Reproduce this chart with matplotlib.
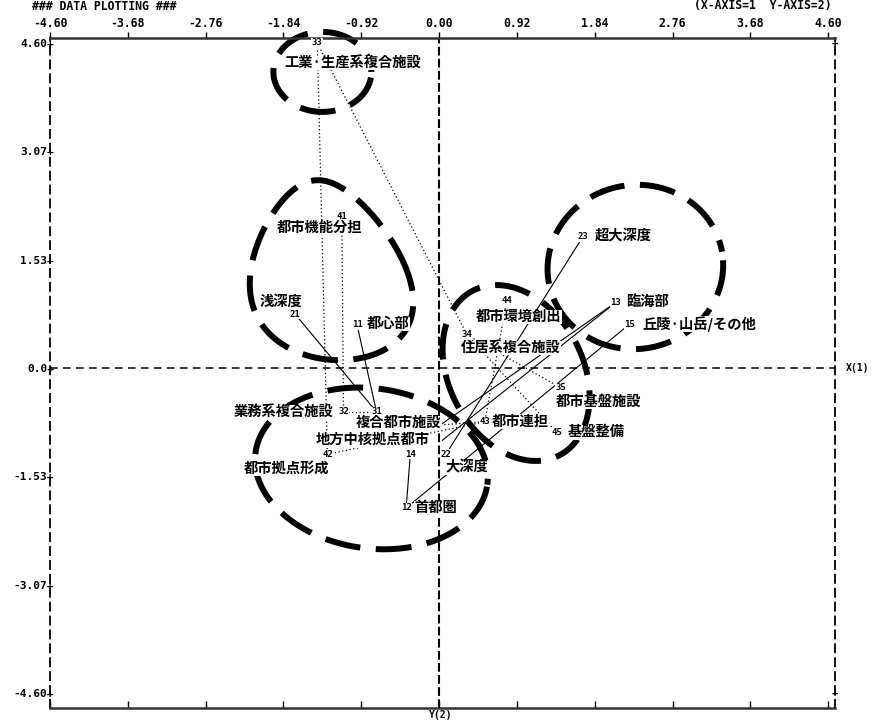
import numpy as np
import matplotlib
matplotlib.use("Agg")
import matplotlib.pyplot as plt

# ---------------- data ----------------
ids = ['11', '12', '13', '14', '15', '21', '22', '23',
       '31', '32', '33', '34', '35', '41', '42', '43', '44', '45']
names = ['都心部', '首都圏', '臨海部', '地方中核拠点都市', '丘陵·山岳/その他',
         '浅深度', '大深度', '超大深度',
         '複合都市施設', '業務系複合施設', '工業·生産系複合施設', '住居系複合施設', '都市基盤施設',
         '都市機能分担', '都市拠点形成', '都市連担', '都市環境創出', '基盤整備']
axis1 = [-0.97, -0.39, 2.09, -0.34, 2.25, -1.70, 0.08, 1.70,
         -0.74, -1.13, -1.44, 0.33, 1.44, -1.15, -1.32, 0.54, 0.80, 1.39]
axis2 = [0.61, -1.98, 0.93, -1.22, 0.62, 0.76, -1.22, 1.86,
         -0.62, -0.62, 4.60, 0.47, -0.28, 2.14, -1.22, -0.76, 0.95, -0.91]

solid_links = [('21', '31'), ('11', '31'), ('23', '22'), ('13', '31'),
               ('13', '14'), ('15', '12'), ('12', '14')]
dotted_links = [('33', '42'), ('33', '34'), ('41', '32'), ('32', '31'),
                ('42', '43'), ('31', '43'), ('44', '43'), ('34', '35'), ('34', '45')]

x_ticks = [-4.60, -3.68, -2.76, -1.84, -0.92, 0.00, 0.92, 1.84, 2.76, 3.68, 4.60]
x_tick_labels = ['-4.60', '-3.68', '-2.76', '-1.84', '-0.92', '0.00',
                 '0.92', '1.84', '2.76', '3.68', '4.60']
y_ticks = [4.60, 3.07, 1.53, 0.0, -1.53, -3.07, -4.60]
y_tick_labels = ['4.60+', '3.07+', '1.53+', '0.0+', '-1.53+', '-3.07+', '-4.60+']

# ---------------- layout / style ----------------
MONO = 'DejaVu Sans Mono'
JP = ['Noto Sans CJK JP', 'DejaVu Sans']

# label offsets in pixels (right, down) relative to the numbered point
label_offsets = {
    '11': (10, -1, 'left'), '12': (8, 0, 'left'), '13': (10, 0, 'left'),
    '14': (-38, -14, 'center'), '15': (13, 0, 'left'), '21': (-14, -13, 'center'),
    '22': (21, 13, 'center'), '23': (12, 0, 'left'), '31': (22, 11, 'center'),
    '32': (-10, 0, 'right'), '33': (35, 20, 'center'), '34': (44, 13, 'center'),
    '35': (38, 14, 'center'), '41': (-22, 11, 'center'), '42': (-41, 14, 'center'),
    '43': (7, 0, 'left'), '44': (12, 16, 'center'), '45': (11, 0, 'left'),
}
# where links coming from the right attach (end of the label), pixels (right, down)
east_attach = {'31': (64, 13), '14': (32, -14)}

# cluster outlines: centre in data units, semi axes in pixels
clusters = [
    dict(c=(-1.38, 4.19), a=49, b=40, k=0.0, shear=0.0, rot=0, phase=3),
    dict(c=(-1.305, 1.385), a=78, b=90, k=0.3, shear=-0.12, rot=0, phase=0),
    dict(c=(-0.80, -1.42), a=117, b=80, k=0.0, shear=0.0, rot=-8, phase=5),
    dict(c=(0.91, -0.07), a=93, b=67, k=0.0, shear=0.0, rot=-62, phase=2),
    dict(c=(2.32, 1.43), a=88, b=82, k=0.0, shear=0.0, rot=10, phase=4),
]

fig = plt.figure(figsize=(8.81, 7.2), dpi=100)
ax = fig.add_axes([50 / 881, 12 / 720, 785 / 881, 670 / 720])
ax.set_xlim(-4.60, 4.68)
ax.set_ylim(-4.81, 4.67)

# spines
for s in ('top', 'bottom'):
    ax.spines[s].set_linewidth(1.8)
    ax.spines[s].set_color('#333333')
for s in ('left', 'right'):
    ax.spines[s].set_linewidth(1.3)
    ax.spines[s].set_linestyle((0, (4.5, 3.2)))

# ticks
ax.xaxis.tick_top()
ax.set_xticks(x_ticks, labels=x_tick_labels)
ax.tick_params(axis='x', top=True, bottom=False, labeltop=True, labelbottom=False,
               direction='out', length=4.5, width=1.0, pad=1.5)
for t in ax.get_xticklabels():
    t.set_fontfamily(MONO)
    t.set_fontweight('bold')
    t.set_fontsize(8.3)
sec = ax.secondary_xaxis('bottom')
sec.set_xticks(x_ticks)
sec.tick_params(direction='in', length=5, width=1.0, labelbottom=False)
sec.spines['bottom'].set_visible(False)

ax.set_yticks(y_ticks, labels=y_tick_labels)
ax.tick_params(axis='y', length=0, pad=-3)
for t in ax.get_yticklabels():
    t.set_fontfamily(MONO)
    t.set_fontweight('bold')
    t.set_fontsize(8)

# right side markers
for yv in (y_ticks[0], y_ticks[-1]):
    ax.text(1.0, yv, '+', transform=ax.get_yaxis_transform(), ha='center', va='center',
            fontfamily=MONO, fontweight='bold', fontsize=7.5, clip_on=False)

# zero lines
ax.axhline(0, color='black', lw=1.1, ls=(0, (5, 3.5)), zorder=1)
ax.axvline(0, color='black', lw=1.5, ls=(0, (4.2, 1.6)), zorder=1)

# header texts
fig.text(32 / 881, 1 - 6 / 720, '### DATA PLOTTING ###', fontfamily=MONO,
         fontweight='bold', fontsize=8.3, ha='left', va='center')
fig.text(832 / 881, 1 - 6 / 720, '(X-AXIS=1  Y-AXIS=2)', fontfamily=MONO,
         fontweight='bold', fontsize=8.3, ha='right', va='center')
fig.text(846 / 881, 1 - 368 / 720, 'X(1)', fontfamily=MONO,
         fontweight='bold', fontsize=7, ha='left', va='center')
fig.text(441 / 881, 1 - 715 / 720, 'Y(2)', fontfamily=MONO,
         fontweight='bold', fontsize=7, ha='center', va='center')

fig.canvas.draw()
td = ax.transData
inv = td.inverted()
idx = {k: i for i, k in enumerate(ids)}


def disp(k):
    i = idx[k]
    return np.array(td.transform((axis1[i], axis2[i])))


def endpoint(a, b):
    pa, pb = disp(a), disp(b)
    if a in east_attach and pb[0] > pa[0] + 40:
        dx, dy = east_attach[a]
        pa = pa + np.array([dx, -dy])
    return pa


def draw_link(a, b, **kw):
    p = np.array([endpoint(a, b), endpoint(b, a)])
    d = inv.transform(p)
    ax.plot(d[:, 0], d[:, 1], color='black', zorder=1, **kw)


for a, b in solid_links:
    draw_link(a, b, lw=0.8)
for a, b in dotted_links:
    draw_link(a, b, lw=0.9, ls=(0, (1, 2)))

# cluster outlines
t = np.linspace(0, 2 * np.pi, 600)
for c in clusters:
    u = c['a'] * np.cos(t) * (1 - c['k'] * np.sin(t))
    v = c['b'] * np.sin(t)
    u = u + c['shear'] * v
    r = np.deg2rad(c['rot'])
    uu = u * np.cos(r) - v * np.sin(r)
    vv = u * np.sin(r) + v * np.cos(r)
    cd = td.transform(c['c'])
    pts = inv.transform(np.column_stack([cd[0] + uu, cd[1] + vv]))
    ax.plot(pts[:, 0], pts[:, 1], color='black', lw=4.3, zorder=2,
            dash_capstyle='butt', clip_on=False,
            ls=(c['phase'], (6.0, 2.6)))

# numbers and names
for i, k in enumerate(ids):
    ax.text(axis1[i], axis2[i], k, fontfamily=MONO, fontweight='bold', fontsize=6.5,
            ha='center', va='center', zorder=6,
            bbox=dict(facecolor='white', edgecolor='none', pad=0.3))
    dx, dy, ha = label_offsets[k]
    ax.annotate(names[i], xy=(axis1[i], axis2[i]), xytext=(dx * 0.72, -dy * 0.72),
                textcoords='offset points', ha=ha, va='center', family=JP,
                fontweight='bold', fontsize=10.3, zorder=6,
                bbox=dict(facecolor='white', edgecolor='none', pad=0.2))

fig.savefig('out.png', dpi=100)
